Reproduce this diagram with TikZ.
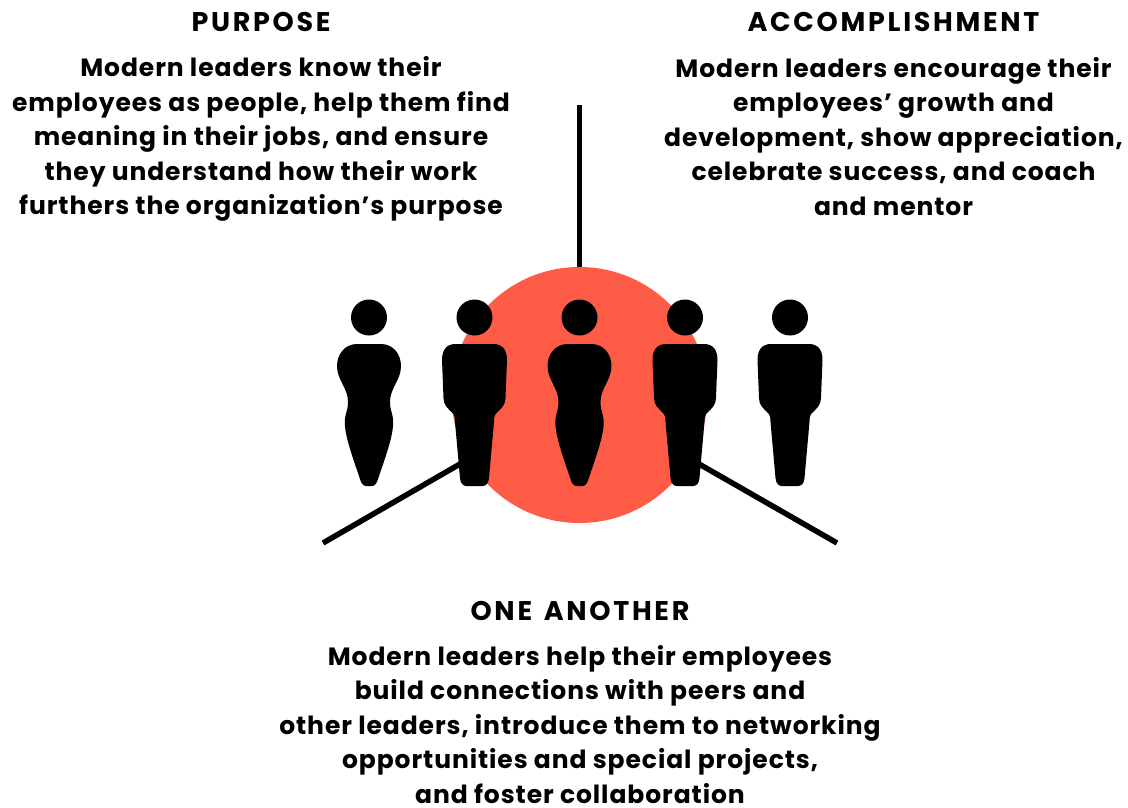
\documentclass[tikz,border=0pt]{standalone}
\usepackage{fontspec}
\setmainfont{Poppins}[BoldFont={Poppins Bold},LetterSpace=3.7]
\newfontfamily\headfont{Poppins}[BoldFont={Poppins Bold},LetterSpace=10,WordSpace=1.4]
\usetikzlibrary{arrows}
\definecolor{hubred}{HTML}{FF5C47}
\begin{document}
\begin{tikzpicture}[x=1pt,y=-1pt]
\tikzset{head/.style = {font=\headfont\bfseries\fontsize{27}{28}\selectfont,inner sep=0pt}}
\tikzset{body/.style = {font=\bfseries\fontsize{25}{34.5}\selectfont,align=center,inner sep=0pt}}
\tikzset{hub/.style = {shape=circle,fill=hubred,inner sep=0pt,minimum size=256pt}}
\tikzset{edge/.style = {-,line width=5.5pt,black}}
\tikzset{man/.pic = {
  \fill (0,-168.5) circle (18);
  \fill (-19,-142) .. controls (-28,-142) and (-32.5,-136) .. (-32.5,-126)
    -- (-31,-88) .. controls (-31,-81) and (-27,-78) .. (-23,-74)
    .. controls (-20,-71) and (-19.7,-70) .. (-19.5,-64)
    -- (-14.5,-8) .. controls (-14,-2) and (-11,0) .. (-8,0)
    -- (8,0) .. controls (11,0) and (14,-2) .. (14.5,-8)
    -- (19.5,-64) .. controls (19.7,-70) and (20,-71) .. (23,-74)
    .. controls (27,-78) and (31,-81) .. (31,-88)
    -- (32.5,-126) .. controls (32.5,-136) and (28,-142) .. (19,-142) -- cycle;
}}
\tikzset{woman/.pic = {
  \fill (0,-168.5) circle (18);
  \fill (-12,-142) .. controls (-24,-142) and (-32,-132) .. (-32,-120)
    .. controls (-32,-106) and (-21,-98) .. (-21,-84)
    .. controls (-21,-74) and (-25,-72) .. (-24,-60)
    .. controls (-23,-46) and (-14,-22) .. (-9,-7)
    .. controls (-8,-3) and (-6,0) .. (-3,0)
    -- (3,0) .. controls (6,0) and (8,-3) .. (9,-7)
    .. controls (14,-22) and (23,-46) .. (24,-60)
    .. controls (25,-72) and (21,-74) .. (21,-84)
    .. controls (21,-98) and (32,-106) .. (32,-120)
    .. controls (32,-132) and (24,-142) .. (12,-142) -- cycle;
}}
\useasboundingbox (0,0) rectangle (1128,808);
% titles
\node[head] (purpose) at (261,22) {PURPOSE};
\node[head] (accomplishment) at (893.5,22) {ACCOMPLISHMENT};
\node[head] (another) at (580,611) {ONE ANOTHER};
% texts
\node[body] (purposetext) at (261,139) {Modern leaders know their\\employees as people, help them find\\meaning in their jobs, and ensure\\they understand how their work\\furthers the organization’s purpose};
\node[body] (accomplishmenttext) at (893.5,136.5) {Modern leaders encourage their\\employees’ growth and\\development, show appreciation,\\celebrate success, and coach\\and mentor};
\node[body] (anothertext) at (580,724.5) {Modern leaders help their employees\\build connections with peers and\\other leaders, introduce them to networking\\opportunities and special projects,\\and foster collaboration};
% circle and free ends
\node[hub] (circle) at (579.5,395) {};
\coordinate (topend) at (579.5,105);
\coordinate (leftend) at (323,543);
\coordinate (rightend) at (837,543);
%edges
\draw[edge] (circle.north) to (topend);
\draw[edge] (circle.210) to (leftend);
\draw[edge] (circle.330) to (rightend);
% people
\pic at (369,486) {woman};
\pic at (474.5,486) {man};
\pic at (579.5,486) {woman};
\pic at (685,486) {man};
\pic at (790,486) {man};
\end{tikzpicture}
\end{document}
